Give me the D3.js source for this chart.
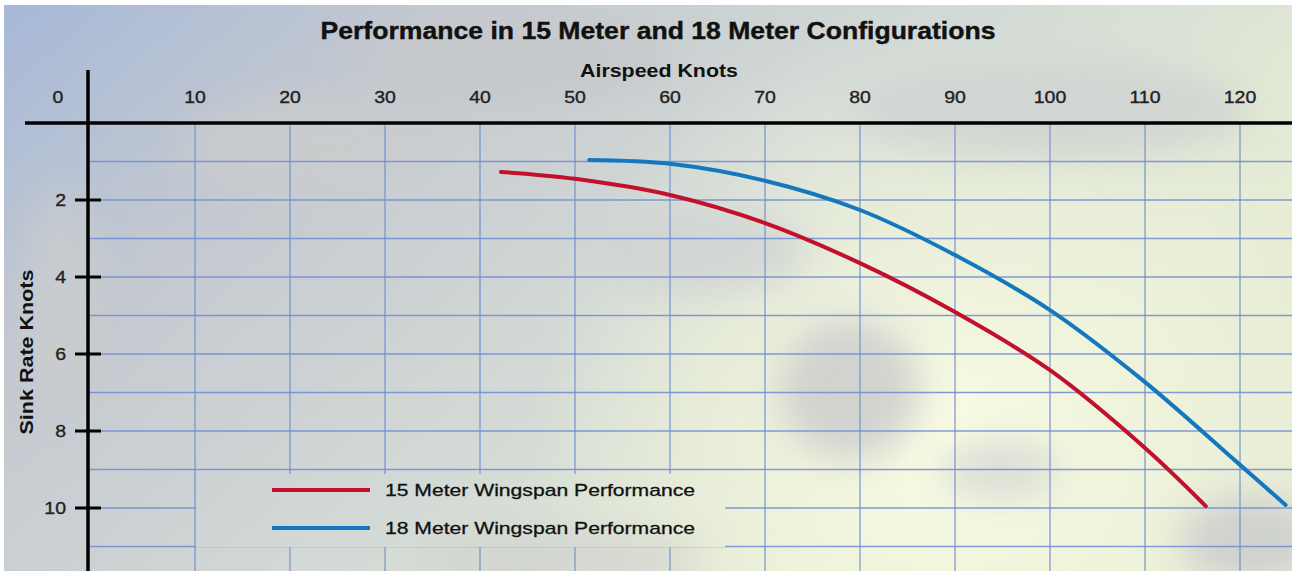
<!DOCTYPE html>
<html>
<head>
<meta charset="utf-8">
<script src="https://cdn.jsdelivr.net/npm/d3@7"></script>
<style>
  html, body { margin: 0; padding: 0; background: #ffffff; }
  svg { display: block; }
  text { font-family: "Liberation Sans", Arial, Helvetica, sans-serif; }
</style>
</head>
<body>
<svg id="chart" width="1294" height="571"></svg>
<script>
// ---------- data ----------
const title = "Performance in 15 Meter and 18 Meter Configurations";
const xTitle = "Airspeed Knots";
const yTitle = "Sink Rate Knots";
const xTickValues = [0, 10, 20, 30, 40, 50, 60, 70, 80, 90, 100, 110, 120];
const yTickValues = [2, 4, 6, 8, 10];
const xGridValues = [10, 20, 30, 40, 50, 60, 70, 80, 90, 100, 110, 120];
const yGridValues = [1, 2, 3, 4, 5, 6, 7, 8, 9, 10, 11];
const seriesNames = ["15 Meter Wingspan Performance", "18 Meter Wingspan Performance"];
const seriesColors = ["#c3102c", "#1577bd"];
// airspeed (knots) vs sink rate (knots)
const airspeed15 = [42.2, 50, 60, 70, 80, 90, 100, 110, 116.4];
const sink15     = [1.27, 1.45, 1.87, 2.6, 3.64, 4.91, 6.42, 8.44, 9.95];
const airspeed18 = [51.5, 60, 70, 80, 90, 100, 110, 120, 124.8];
const sink18     = [0.96, 1.06, 1.5, 2.26, 3.43, 4.86, 6.73, 8.88, 9.92];

// ---------- layout ----------
const W = 1294, H = 571;
const svg = d3.select("#chart");
const x = d3.scaleLinear().domain([0, 125]).range([100, 1287.5]);
const y = d3.scaleLinear().domain([0, 11.5]).range([123, 565.75]);
const axisX = 88;
const legendBox = {x0: 196, x1: 725, y0: 474, y1: 547};

const defs = svg.append("defs");
const bg = defs.append("linearGradient").attr("id", "bg")
  .attr("gradientUnits", "userSpaceOnUse")
  .attr("x1", 0).attr("y1", 0).attr("x2", 650).attr("y2", 750);
bg.append("stop").attr("offset", "0").attr("stop-color", "#a6b8d8");
bg.append("stop").attr("offset", "0.3").attr("stop-color", "#c4c9d0");
bg.append("stop").attr("offset", "0.65").attr("stop-color", "#d3dad6");
bg.append("stop").attr("offset", "1").attr("stop-color", "#e6edd4");

const glow = defs.append("radialGradient").attr("id", "glow")
  .attr("gradientUnits", "userSpaceOnUse")
  .attr("cx", 950).attr("cy", 440).attr("r", 420);
glow.append("stop").attr("offset", "0").attr("stop-color", "#fafce4").attr("stop-opacity", 1);
glow.append("stop").attr("offset", "0.6").attr("stop-color", "#f0f4dc").attr("stop-opacity", 0.6);
glow.append("stop").attr("offset", "1").attr("stop-color", "#eef2dc").attr("stop-opacity", 0);

const blur = defs.append("filter").attr("id", "blur")
  .attr("x", "-50%").attr("y", "-50%").attr("width", "200%").attr("height", "200%");
blur.append("feGaussianBlur").attr("stdDeviation", 18);

function drawBackground(g) {
  g.append("rect").attr("x", 4).attr("y", 5).attr("width", W - 6).attr("height", H - 5)
    .attr("fill", "url(#bg)");
  g.append("rect").attr("x", 4).attr("y", 5).attr("width", W - 6).attr("height", H - 5)
    .attr("fill", "url(#glow)");
  const clouds = [
    [520, 60, 160, 50, "#c6c8ca"], [300, 150, 120, 50, "#cbcdcd"],
    [850, 390, 70, 70, "#c6c8ca"], [1250, 540, 70, 45, "#c6c8cb"],
    [560, 560, 150, 28, "#d0d2cf"], [700, 250, 110, 45, "#cfd2d3"],
    [60, 300, 40, 110, "#cacdcf"], [1050, 110, 200, 50, "#cdd1d2"],
    [1000, 470, 60, 30, "#d2d5d3"]
  ];
  g.selectAll("ellipse.cloud").data(clouds).enter().append("ellipse")
    .attr("class", "cloud")
    .attr("cx", d => d[0]).attr("cy", d => d[1]).attr("rx", d => d[2]).attr("ry", d => d[3])
    .attr("fill", d => d[4]).attr("opacity", 0.75).attr("filter", "url(#blur)");
}
defs.append("clipPath").attr("id", "frameClip").append("rect")
  .attr("x", 4).attr("y", 5).attr("width", W - 6).attr("height", H - 5);
drawBackground(svg.append("g").attr("clip-path", "url(#frameClip)"));

// ---------- grid ----------
const gridColor = "#6f8bd2";
const grid = svg.append("g");
grid.selectAll("line.vg").data(xGridValues).enter().append("line")
  .attr("x1", d => x(d)).attr("x2", d => x(d))
  .attr("y1", y(0)).attr("y2", H)
  .attr("stroke", gridColor).attr("stroke-width", 1.3).attr("opacity", 0.85);
grid.selectAll("line.hg").data(yGridValues).enter().append("line")
  .attr("x1", axisX).attr("x2", W - 2)
  .attr("y1", d => y(d)).attr("y2", d => y(d))
  .attr("stroke", gridColor).attr("stroke-width", 1.3).attr("opacity", 0.85);

// legend area hides the grid behind it
defs.append("clipPath").attr("id", "legClip").append("rect")
  .attr("x", legendBox.x0).attr("y", legendBox.y0)
  .attr("width", legendBox.x1 - legendBox.x0).attr("height", legendBox.y1 - legendBox.y0);
drawBackground(svg.append("g").attr("clip-path", "url(#legClip)"));

// ---------- axes ----------
const axes = svg.append("g");
axes.append("line").attr("x1", 25).attr("x2", W - 2).attr("y1", y(0)).attr("y2", y(0))
  .attr("stroke", "#000").attr("stroke-width", 3.5);
axes.append("line").attr("x1", axisX).attr("x2", axisX).attr("y1", 70).attr("y2", H)
  .attr("stroke", "#000").attr("stroke-width", 3.5);
axes.selectAll("line.yt").data(yTickValues).enter().append("line")
  .attr("x1", 75).attr("x2", 101).attr("y1", d => y(d)).attr("y2", d => y(d))
  .attr("stroke", "#000").attr("stroke-width", 3);

function stretch(sel, factor) {
  sel.each(function () {
    const w = this.getComputedTextLength();
    d3.select(this).attr("textLength", w * factor).attr("lengthAdjust", "spacingAndGlyphs");
  });
}

const xt = axes.selectAll("text.xt").data(xTickValues).enter().append("text")
  .attr("x", d => d === 0 ? 58 : x(d)).attr("y", 103)
  .attr("text-anchor", "middle")
  .attr("font-size", 16.5).attr("fill", "#222").attr("stroke", "#222").attr("stroke-width", 0.35)
  .text(d => d);
stretch(xt, 1.18);
const yt = axes.selectAll("text.yt").data(yTickValues).enter().append("text")
  .attr("x", 66).attr("y", d => y(d) + 6)
  .attr("text-anchor", "end")
  .attr("font-size", 16.5).attr("fill", "#222").attr("stroke", "#222").attr("stroke-width", 0.35)
  .text(d => d);
stretch(yt, 1.18);

svg.append("text").attr("x", 658).attr("y", 39).attr("text-anchor", "middle")
  .attr("font-size", 23).attr("font-weight", "bold").attr("fill", "#111")
  .attr("stroke", "#111").attr("stroke-width", 0.4)
  .attr("textLength", 675).attr("lengthAdjust", "spacingAndGlyphs").text(title);
svg.append("text").attr("x", 659).attr("y", 77).attr("text-anchor", "middle")
  .attr("font-size", 18).attr("font-weight", "bold").attr("fill", "#111")
  .attr("textLength", 158).attr("lengthAdjust", "spacingAndGlyphs").text(xTitle);
svg.append("text").attr("transform", "translate(33,352) rotate(-90)")
  .attr("text-anchor", "middle")
  .attr("font-size", 18).attr("font-weight", "bold").attr("fill", "#111")
  .attr("textLength", 165).attr("lengthAdjust", "spacingAndGlyphs").text(yTitle);

// ---------- series ----------
const series = [
  airspeed15.map((a, i) => [a, sink15[i]]),
  airspeed18.map((a, i) => [a, sink18[i]])
];
const line = d3.line().x(d => x(d[0])).y(d => y(d[1])).curve(d3.curveCatmullRom.alpha(0.5));
svg.selectAll("path.series").data(series).enter().append("path")
  .attr("d", line)
  .attr("fill", "none")
  .attr("stroke", (d, i) => seriesColors[i])
  .attr("stroke-width", 4)
  .attr("stroke-linecap", "round");

// ---------- legend ----------
const leg = svg.append("g");
const legY = [490, 528];
leg.selectAll("line.lg").data(seriesNames).enter().append("line")
  .attr("x1", 272).attr("x2", 370)
  .attr("y1", (d, i) => legY[i]).attr("y2", (d, i) => legY[i])
  .attr("stroke", (d, i) => seriesColors[i]).attr("stroke-width", 4);
leg.selectAll("text.lg").data(seriesNames).enter().append("text")
  .attr("x", 385).attr("y", (d, i) => legY[i] + 6)
  .attr("font-size", 17).attr("fill", "#111").attr("stroke", "#111").attr("stroke-width", 0.3)
  .attr("textLength", 310).attr("lengthAdjust", "spacingAndGlyphs")
  .text(d => d);
</script>
</body>
</html>
